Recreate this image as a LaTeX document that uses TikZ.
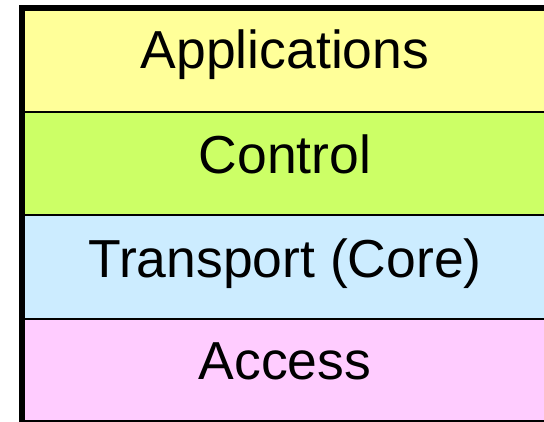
\documentclass[tikz,border=0pt]{standalone}
\usepackage{fontspec}
\setmainfont{Liberation Sans}
\definecolor{layyellow}{HTML}{FFFF99}
\definecolor{laygreen}{HTML}{CCFF66}
\definecolor{layblue}{HTML}{CCECFF}
\definecolor{laypink}{HTML}{FFCCFF}
\tikzset{
  lbl/.style={anchor=base, inner sep=0pt, font=\fontsize{53.5}{60}\selectfont},
  divider/.style={line width=2pt, draw=black},
}
\begin{document}
\begin{tikzpicture}[x=1pt,y=1pt]
\useasboundingbox (0,0) rectangle (544,422);
% bands
\fill[layyellow] (25,310) rectangle (544,411);
\fill[laygreen]  (25,207) rectangle (544,310);
\fill[layblue]   (25,103) rectangle (544,207);
\fill[laypink]   (25,1)   rectangle (544,103);
% dividers
\coordinate (d1l) at (25,310); \coordinate (d1r) at (544,310);
\coordinate (d2l) at (25,207); \coordinate (d2r) at (544,207);
\coordinate (d3l) at (25,103); \coordinate (d3r) at (544,103);
\coordinate (bl) at (19,1);   \coordinate (br) at (544,1);
\draw[divider] (d1l) -- (d1r);
\draw[divider] (d2l) -- (d2r);
\draw[divider] (d3l) -- (d3r);
\draw[divider] (bl) -- (br);
% thick frame left and top
\coordinate (tl) at (22,414);
\coordinate (tr) at (544,414);
\coordinate (lb) at (22,0);
\draw[line width=6pt, line cap=rect] (lb) -- (tl);
\draw[line width=6pt] (tl) -- (tr);
% labels
\node[lbl] (app) at (285,353) {Applications};
\node[lbl] (ctl) at (285,248) {Control};
\node[lbl] (trn) at (285,144) {Transport (Core)};
\node[lbl] (acc) at (285,42)  {Access};
\end{tikzpicture}
\end{document}
